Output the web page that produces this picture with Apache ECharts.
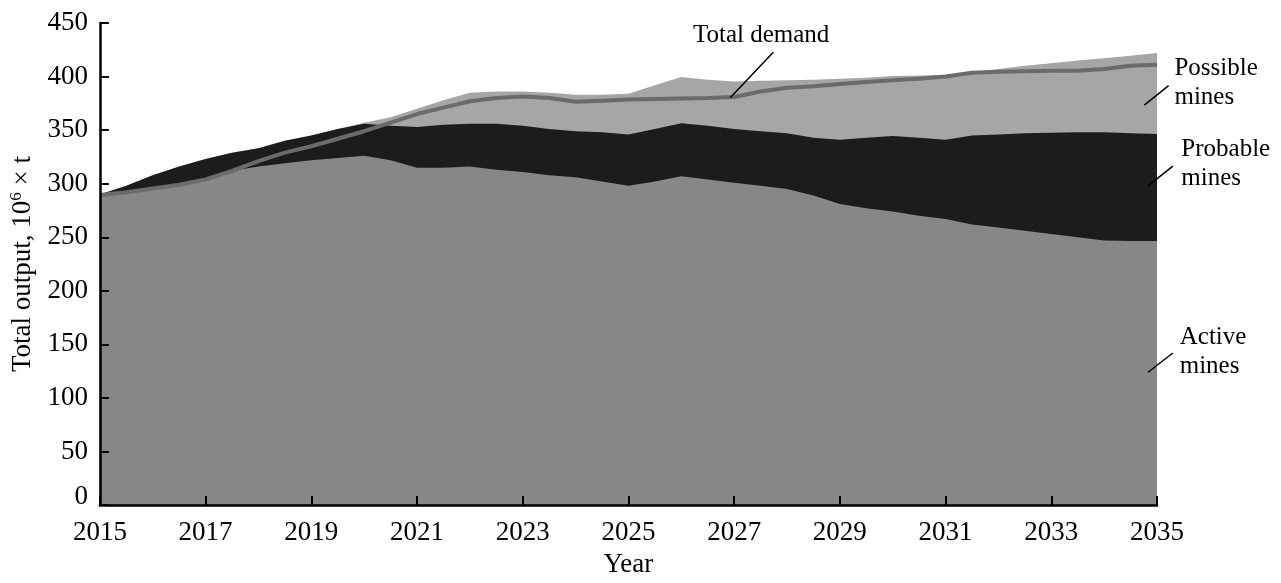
<!DOCTYPE html>
<html>
<head>
<meta charset="utf-8">
<script src="https://cdn.jsdelivr.net/npm/echarts@6/dist/echarts.min.js"></script>
<style>
  html, body { margin: 0; padding: 0; background: #fff; }
  #chart { width: 1281px; height: 583px; }
</style>
</head>
<body>
<div id="chart"></div>
<script>
// Years (half-year steps)
const years = [
  2015, 2015.5, 2016, 2016.5, 2017, 2017.5, 2018, 2018.5, 2019, 2019.5,
  2020, 2020.5, 2021, 2021.5, 2022, 2022.5, 2023, 2023.5, 2024, 2024.5,
  2025, 2025.5, 2026, 2026.5, 2027, 2027.5, 2028, 2028.5, 2029, 2029.5,
  2030, 2030.5, 2031, 2031.5, 2032, 2032.5, 2033, 2033.5, 2034, 2034.5, 2035
];

// Output by mine group, 10^6 t (layered: active, then probable, then possible)
const activeMines = [
  290, 292, 295, 298, 303, 312, 316, 319, 322, 324,
  326, 322, 315, 315, 316, 313, 311, 308, 306, 302,
  298, 302, 307, 304, 301, 298, 295, 289, 281, 277,
  274, 270, 267, 262, 259, 256, 253, 250, 247, 246.5, 246.5
];
const probableMines = [
  0, 6, 13, 18, 20, 17, 17, 21, 23, 27,
  30, 32, 38, 40, 40, 43, 43, 43, 43, 46,
  48, 49, 49.5, 50, 50, 51, 52, 54, 60, 66,
  70.5, 73, 74, 83, 87, 91, 94.5, 98, 101, 100.5, 100
];
const possibleMines = [
  0, 0, 0, 0, 0, 0, 0, 0, 0, 0,
  1, 8, 17, 23, 29, 30, 32, 34, 34, 35,
  38, 41, 43, 43, 44.5, 47, 49.5, 54, 57, 56,
  56, 58, 60.5, 59, 61, 63, 65, 67, 69, 72.5, 75.5
];
const totalDemand = [
  289.5, 292, 295.5, 299, 304, 312, 321, 329, 335, 342,
  349, 357, 365, 371, 377, 380, 381.5, 380, 376.5, 377.5,
  378.5, 379, 379.5, 380, 381, 386, 389.5, 391, 393, 395,
  396.5, 398, 400, 403.5, 404.5, 405, 405.5, 405.5, 407, 410, 411
];

// Axis tick values
const yearTicks = [2015, 2017, 2019, 2021, 2023, 2025, 2027, 2029, 2031, 2033, 2035];
const outputTicks = [0, 50, 100, 150, 200, 250, 300, 350, 400, 450];

// Annotation texts with leader lines, anchored in data coordinates [year, value]
const annotations = [
  { text: 'Total demand', textAt: [2027.51, 438.5], align: 'center', from: [2026.93, 380.5], to: [2027.74, 422.7] },
  { text: 'Possible\nmines', textAt: [2035.33, 393.7], align: 'left', from: [2034.76, 373.4], to: [2035.22, 391.5] },
  { text: 'Probable\nmines', textAt: [2035.46, 318.6], align: 'left', from: [2034.83, 298], to: [2035.3, 316.4] },
  { text: 'Active\nmines', textAt: [2035.43, 142.9], align: 'left', from: [2034.83, 124], to: [2035.3, 142] }
];

const FONT = '"Liberation Serif", "Times New Roman", serif';

// Running totals: each layer is filled from zero up to its cumulative top,
// drawn back to front so the lower layers cover the upper ones.
const activeTop = activeMines.slice();
const probableTop = activeTop.map((v, i) => v + probableMines[i]);
const possibleTop = probableTop.map((v, i) => v + possibleMines[i]);
const pair = (arr) => years.map((y, i) => [y, arr[i]]);

const chart = echarts.init(document.getElementById('chart'), null, { renderer: 'canvas' });

const areaSeries = (name, data, color, z) => ({
  name,
  type: 'line',
  data: pair(data),
  showSymbol: false,
  symbol: 'none',
  lineStyle: { width: 0, color },
  areaStyle: { color, opacity: 1, origin: 'start' },
  itemStyle: { color },
  animation: false,
  z
});

chart.setOption({
  animation: false,
  backgroundColor: '#ffffff',
  textStyle: { fontFamily: FONT },
  grid: { left: 99, right: 124, top: 23, bottom: 65, containLabel: false },
  xAxis: {
    type: 'value',
    min: 2015,
    max: 2035,
    interval: 2,
    name: 'Year',
    nameLocation: 'middle',
    nameGap: 44,
    nameTextStyle: { fontFamily: FONT, fontSize: 27, color: '#000' },
    axisLine: { show: true, onZero: false, lineStyle: { color: '#000', width: 2.5 } },
    axisTick: { show: true, inside: true, length: 9, lineStyle: { color: '#000', width: 2 },
      customValues: yearTicks },
    axisLabel: { fontFamily: FONT, fontSize: 27, color: '#000', margin: 14,
      customValues: yearTicks, formatter: (v) => String(v) },
    splitLine: { show: false },
    z: 10
  },
  yAxis: {
    type: 'value',
    min: 0,
    max: 450,
    interval: 50,
    name: '{n|Total output, 10}{s|6}{n| × t}',
    nameLocation: 'middle',
    nameRotate: 90,
    nameGap: 58,
    nameTextStyle: {
      color: '#000',
      rich: {
        n: { fontFamily: FONT, fontSize: 27, color: '#000' },
        s: { fontFamily: FONT, fontSize: 17, color: '#000', padding: [0, 0, 13, 0] }
      }
    },
    axisLine: { show: true, lineStyle: { color: '#000', width: 2.5 } },
    axisTick: { show: true, inside: true, length: 9, lineStyle: { color: '#000', width: 2 },
      customValues: outputTicks },
    axisLabel: {
      fontFamily: FONT, fontSize: 27, color: '#000', margin: 12,
      customValues: outputTicks,
      formatter: (v) => (v === 0 ? '{zero|0}' : String(v)),
      rich: { zero: { fontFamily: FONT, fontSize: 27, color: '#000', padding: [0, 0, 16, 0] } }
    },
    splitLine: { show: false },
    z: 10
  },
  series: [
    areaSeries('Possible mines', possibleTop, '#a6a6a6', 1),
    areaSeries('Probable mines', probableTop, '#1c1c1c', 2),
    areaSeries('Active mines', activeTop, '#878787', 3),
    {
      name: 'Total demand',
      type: 'line',
      data: pair(totalDemand),
      showSymbol: false,
      symbol: 'none',
      lineStyle: { width: 4, color: '#6b6b6b' },
      animation: false,
      z: 5
    }
  ]
});

// Annotation labels and leader lines placed through the chart's coordinate system
const toPx = (p) => chart.convertToPixel({ gridIndex: 0 }, p);
const graphics = [];
annotations.forEach((a) => {
  const f = toPx(a.from);
  const t = toPx(a.to);
  const c = toPx(a.textAt);
  graphics.push({
    type: 'line',
    shape: { x1: f[0], y1: f[1], x2: t[0], y2: t[1] },
    style: { stroke: '#000', lineWidth: 1.5 },
    z: 20
  });
  graphics.push({
    type: 'text',
    x: c[0],
    y: c[1],
    style: {
      text: a.text,
      fill: '#000',
      font: '25px ' + FONT,
      lineHeight: 29,
      align: a.align,
      verticalAlign: 'middle'
    },
    z: 20
  });
});
chart.setOption({ graphic: graphics });
</script>
</body>
</html>
